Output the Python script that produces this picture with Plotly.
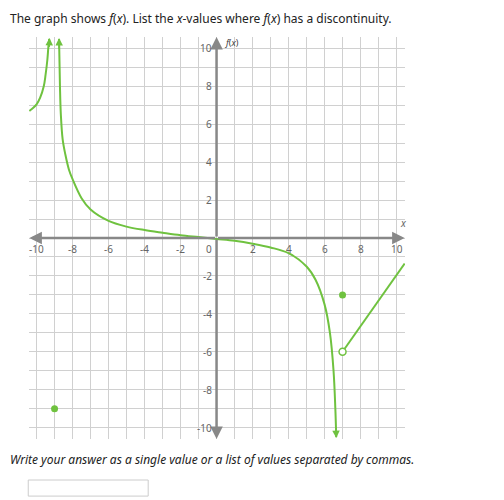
import plotly.graph_objects as go

# f(x) pieces
left_x = [-10.4, -10.2, -10.0, -9.8, -9.6, -9.5, -9.4, -9.35, -9.3]
left_y = [6.7, 6.85, 7.05, 7.4, 8.0, 8.6, 9.4, 10.0, 10.5]
mid_x = [-8.75, -8.7, -8.65, -8.55, -8.4, -8.2, -8.0, -7.5, -7.0, -6.0, -5.0, -4.0, -3.0, -2.0, -1.0, 0.0,
         1.0, 2.0, 3.0, 4.0, 5.0, 5.5, 6.0, 6.3, 6.5, 6.6, 6.65]
mid_y = [10.5, 8.0, 6.5, 5.2, 4.4, 3.6, 3.1, 2.1, 1.5, 0.9, 0.6, 0.42, 0.28, 0.15, 0.05, -0.05,
         -0.15, -0.3, -0.5, -0.8, -1.5, -2.2, -3.5, -5.0, -7.0, -9.0, -10.5]
right_x = [7.0, 10.45]
right_y = [-6.0, -1.35]
dots_x = [-9, 7]
dots_y = [-9, -3]
open_x = [7]
open_y = [-6]
ticks = [-10, -8, -6, -4, -2, 2, 4, 6, 8, 10]

green = '#6fc23f'
fig = go.Figure()
for xs, ys in [(left_x, left_y), (mid_x, mid_y), (right_x, right_y)]:
    fig.add_trace(go.Scatter(x=xs, y=ys, mode='lines', line=dict(color=green, width=2, shape='spline'),
                             hoverinfo='skip'))
fig.add_trace(go.Scatter(x=dots_x, y=dots_y, mode='markers', marker=dict(color=green, size=7)))
fig.add_trace(go.Scatter(x=open_x, y=open_y, mode='markers',
                         marker=dict(color='white', size=7, line=dict(color=green, width=1.5))))

ann = []
# arrow heads on the curve ends
for x0, y0, x1, y1 in [(-9.3, 10.0, -9.28, 10.55), (-8.74, 9.9, -8.75, 10.55), (6.63, -9.9, 6.65, -10.55)]:
    ann.append(dict(x=x1, y=y1, ax=x0, ay=y0, xref='x', yref='y', axref='x', ayref='y', text='',
                    showarrow=True, arrowhead=2, arrowsize=1.0, arrowwidth=1.5, arrowcolor=green))
# axis arrows
for x0, y0, x1, y1 in [(0, 0, 10.45, 0), (0, 0, -10.4, 0), (0, 0, 0, 10.6), (0, 0, 0, -10.6)]:
    ann.append(dict(x=x1, y=y1, ax=x0, ay=y0, xref='x', yref='y', axref='x', ayref='y', text='',
                    showarrow=True, arrowhead=2, arrowsize=1.0, arrowwidth=2.5, arrowcolor='#888'))
lab = dict(size=10, color='#666', family='Noto Sans')
for t in ticks:
    ann.append(dict(x=t, y=-0.1, text=str(t), showarrow=False, yanchor='top', font=lab))
    ann.append(dict(x=-0.15, y=t, text=str(t), showarrow=False, xanchor='right', font=lab))
ann.append(dict(x=-0.15, y=-0.1, text='0', showarrow=False, xanchor='right', yanchor='top', font=lab))
ann.append(dict(x=10.4, y=0.3, text='<i>x</i>', showarrow=False, yanchor='bottom', font=lab))
ann.append(dict(x=0.3, y=10.3, text='<i>f</i>(<i>x</i>)', showarrow=False, xanchor='left',
                font=dict(size=9, color='#333')))
ann.append(dict(x=0, y=1, xref='paper', yref='paper', xshift=-21, yshift=29,
                text='The graph shows <i>f</i>(<i>x</i>). List the <i>x</i>-values where <i>f</i>(<i>x</i>) has a discontinuity.',
                showarrow=False, xanchor='left', yanchor='top', font=dict(size=12, color='#222', family='Noto Sans')))
ann.append(dict(x=0, y=0, xref='paper', yref='paper', xshift=-21, yshift=-10,
                text='<i>Write your answer as a single value or a list of values separated by commas.</i>',
                showarrow=False, xanchor='left', yanchor='top', font=dict(size=12, color='#222', family='Noto Sans')))

axis = dict(showgrid=True, gridcolor='#d0d0d0', gridwidth=1, dtick=1, zeroline=False,
            showticklabels=False, fixedrange=True)
fig.update_layout(
    width=504, height=500, showlegend=False, plot_bgcolor='white', paper_bgcolor='white',
    margin=dict(l=21, r=107, t=29, b=69),
    xaxis=dict(range=[-10.42, 10.47], tick0=0, **axis),
    yaxis=dict(range=[-10.6, 10.6], tick0=0, **axis),
    annotations=ann,
    shapes=[dict(type='rect', xref='paper', yref='paper', x0=-0.002, x1=0.317, y0=-0.142, y1=-0.102,
                 line=dict(color='#ccc', width=1))],
)

fig.write_html("out.html")
